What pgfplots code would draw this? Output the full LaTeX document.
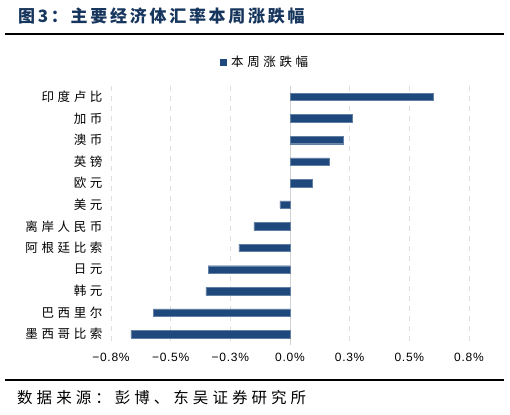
\documentclass[border=0pt]{standalone}
\usepackage{fontspec}
\usepackage{pgfplots}
\pgfplotsset{compat=1.18}
\setmainfont{Noto Sans CJK SC}
\newfontfamily\cjk[LetterSpace=29]{Noto Sans CJK SC}
\newfontfamily\cjktitle[LetterSpace=16]{Noto Sans CJK SC}
\newfontfamily\cjksrc[LetterSpace=26]{Noto Sans CJK SC}
\newfontfamily\numfont[LetterSpace=6]{Liberation Sans}
\definecolor{barblue}{HTML}{1F497D}
\definecolor{titleblue}{HTML}{17365D}
\begin{document}
\begin{tikzpicture}[x=1pt,y=1pt]
\path (0,0) rectangle (510,414);
% title and rules
\node[anchor=west, text=titleblue, font=\cjktitle\bfseries\fontsize{17}{20}\selectfont, inner sep=0pt] at (18,398) {图3：主要经济体汇率本周涨跌幅};
\draw[line width=1.8pt] (5,380) -- (504,380);
\draw[line width=1.8pt] (5,34) -- (504,34);
\node[anchor=west, font=\cjksrc\fontsize{15.5}{18}\selectfont, inner sep=0pt] at (17,16) {数据来源：彭博、东吴证券研究所};
\begin{axis}[
    at={(111pt,69pt)}, anchor=south west,
    scale only axis,
    width=358pt, height=259pt,
    xbar, bar width=7.5pt,
    xmin=-0.75, xmax=0.75,
    ymin=-0.5, ymax=11.5,
    y dir=reverse,
    axis line style={draw=none},
    major tick length=0pt,
    xtick={-0.75,-0.5,-0.25,0,0.25,0.5,0.75},
    xticklabels={−0.8\%,−0.5\%,−0.3\%,0.0\%,0.3\%,0.5\%,0.8\%},
    xticklabel style={font=\numfont\fontsize{12}{14}\selectfont, yshift=-5pt},
    ytick={0,...,11},
    yticklabels={印度卢比,加币,澳币,英镑,欧元,美元,离岸人民币,阿根廷比索,日元,韩元,巴西里尔,墨西哥比索},
    yticklabel style={font=\cjk\fontsize{12.5}{14}\selectfont, xshift=-5pt},
    xmajorgrids,
    major grid style={gray!25, dashed, line width=1pt, dash pattern=on 5pt off 5pt},
    legend style={at={(0.43,1.093)}, anchor=center, draw=none, fill=none,
        font=\cjk\fontsize{12.5}{14}\selectfont},
    legend image code/.code={\fill[barblue] (0pt,-3pt) rectangle (6pt,3pt); \path (9pt,0pt);},
]
\draw[gray!35, line width=1pt] (axis cs:0,-0.5) -- (axis cs:0,11.5);
\addplot[fill=barblue, draw=barblue!70!white, line width=0.4pt] coordinates {
    (0.602,0) (0.260,1) (0.224,2) (0.163,3) (0.092,4) (-0.042,5)
    (-0.151,6) (-0.214,7) (-0.343,8) (-0.352,9) (-0.572,10) (-0.667,11)
};
\addlegendentry{本周涨跌幅}
\end{axis}
\end{tikzpicture}
\end{document}
